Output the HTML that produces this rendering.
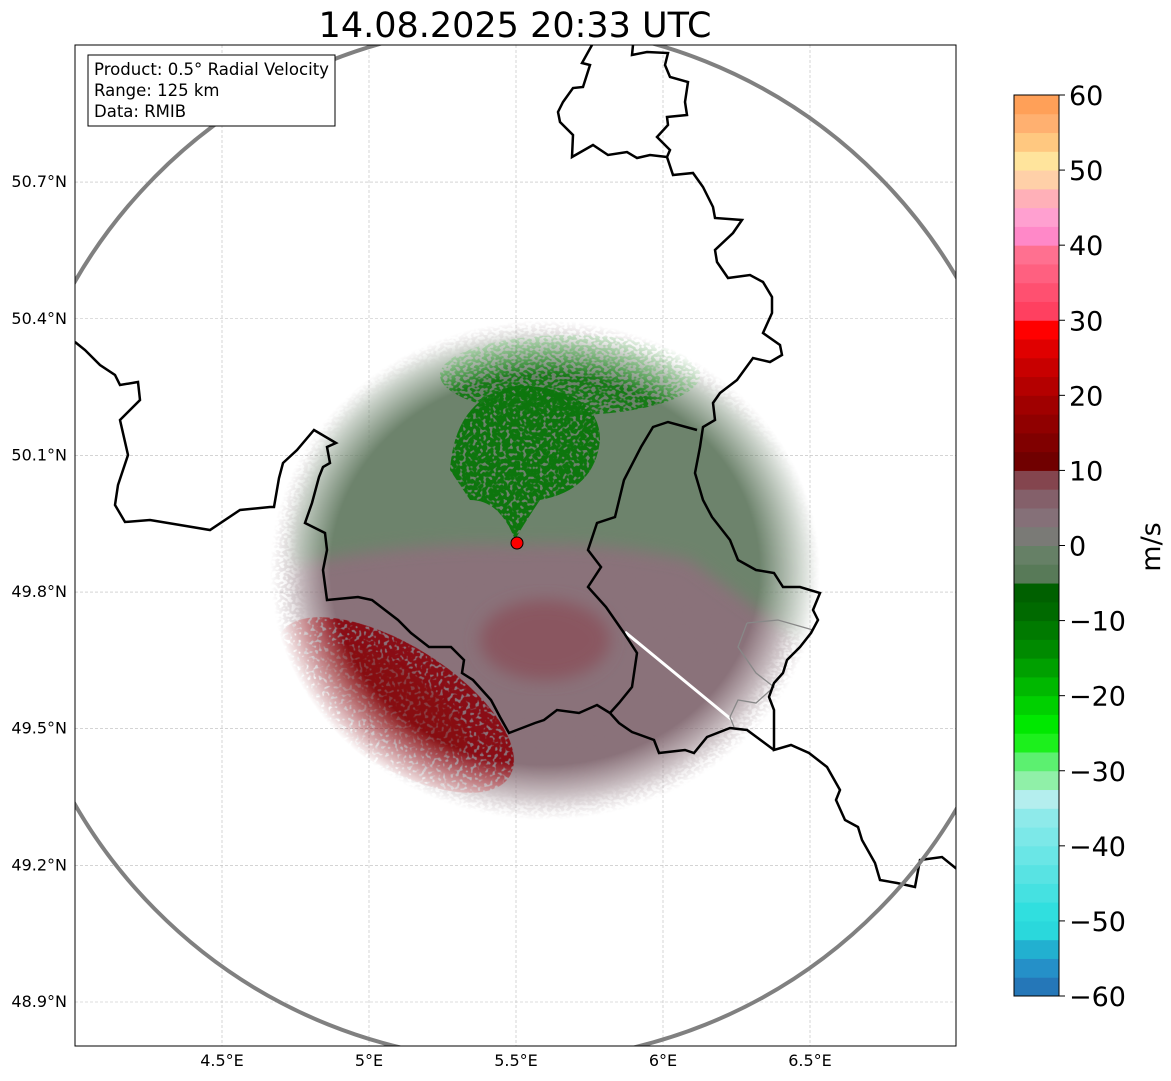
<!DOCTYPE html>
<html><head><meta charset="utf-8"><style>
html,body{margin:0;padding:0;background:#fff;}
svg{display:block;font-family:"DejaVu Sans","Liberation Sans",sans-serif;}
</style></head><body>
<svg id="root" width="1171" height="1081" viewBox="0 0 1171 1081" xmlns="http://www.w3.org/2000/svg">
<defs>
<clipPath id="ax"><rect x="75" y="45" width="881" height="1001"/></clipPath>
<filter id="blur8" x="-20%" y="-20%" width="140%" height="140%"><feGaussianBlur stdDeviation="8"/></filter>
<filter id="blur4" x="-20%" y="-20%" width="140%" height="140%"><feGaussianBlur stdDeviation="4"/></filter>
<filter id="speck" x="-10%" y="-10%" width="120%" height="120%">
<feTurbulence type="fractalNoise" baseFrequency="0.25 0.35" numOctaves="1" seed="3" result="n"/>
<feColorMatrix in="n" type="matrix" values="0 0 0 0 1  0 0 0 0 1  0 0 0 0 1  0 0 0 9 -3.9" result="m"/>
<feComposite in="SourceGraphic" in2="m" operator="in"/>
</filter>
<filter id="speck2" x="-10%" y="-10%" width="120%" height="120%">
<feTurbulence type="fractalNoise" baseFrequency="0.3 0.3" numOctaves="1" seed="7" result="n"/>
<feColorMatrix in="n" type="matrix" values="0 0 0 0 1  0 0 0 0 1  0 0 0 0 1  0 0 0 9 -3.1" result="m"/>
<feComposite in="SourceGraphic" in2="m" operator="in"/>
</filter>
<radialGradient id="fade" cx="0.5" cy="0.5" r="0.5">
<stop offset="0.78" stop-color="#fff" stop-opacity="1"/><stop offset="1" stop-color="#fff" stop-opacity="0"/>
</radialGradient>
<mask id="fadeMask"><ellipse cx="545" cy="570" rx="275" ry="250" fill="url(#fade)"/></mask>
</defs>
<text x="515" y="37" text-anchor="middle" font-size="35" fill="#000">14.08.2025 20:33 UTC</text>
<g id="grid" clip-path="url(#ax)"></g>
<g clip-path="url(#ax)">
 <g mask="url(#fadeMask)">
  <ellipse cx="545" cy="575" rx="255" ry="235" fill="#8a727a" filter="url(#blur8)"/>
  <ellipse cx="545" cy="575" rx="285" ry="260" fill="#8a727a" filter="url(#speck)"/>
  <path d="M290,525 Q320,350 520,335 Q710,340 800,470 Q830,560 815,650 Q745,600 690,560 Q600,540 517,545 Q420,540 290,565 Z" fill="#6d836c" filter="url(#blur8)"/>
  <ellipse cx="570" cy="375" rx="130" ry="40" fill="#137a13" filter="url(#speck)"/>
  <path d="M450,470 Q455,395 520,385 Q600,390 600,440 Q595,490 540,500 Q520,530 515,540 Q500,500 470,500 Z" fill="#0f760f" filter="url(#speck2)"/>
  <ellipse cx="545" cy="640" rx="65" ry="40" fill="#8a5660" filter="url(#blur8)"/>
  <ellipse cx="395" cy="705" rx="135" ry="60" transform="rotate(32 395 705)" fill="#8a0a12" filter="url(#speck2)"/>
  <ellipse cx="395" cy="700" rx="85" ry="32" transform="rotate(35 395 700)" fill="#850a10" opacity="0.5" filter="url(#blur4)"/>
  <line x1="625" y1="632" x2="732" y2="720" stroke="#fff" stroke-width="3"/>
 </g>
</g>
<g clip-path="url(#ax)" fill="none">
 <polyline stroke="#888" stroke-width="1.3" points="747,623 778,620 813,630"/>
 <polyline stroke="#888" stroke-width="1.3" points="747,623 738,647 756,673 774,687 756,703 738,700 730,717 734,727"/>
 <polyline stroke="#000" stroke-width="2.5" points="592,45 582,63 590,65 583,87 573,88 563,102 558,112 560,122 573,135 572,157 593,145 608,155 627,152 637,158 650,155 667,157"/>
 <polyline stroke="#000" stroke-width="2.5" points="633,45 632,55 647,52 668,53 665,65 670,77 688,82 685,102 687,115 667,117 668,125 657,137 663,143 670,150 667,157 673,175 693,173 703,187 713,207 715,218 742,220 733,233 715,250 717,262 728,278 750,275 763,282 772,297 772,313 763,333 780,345 782,355 770,362 753,358 737,380 720,393 713,403 715,420 703,427 700,447 695,473 703,500 712,517 730,540 738,560 756,570 774,573 783,587 800,587 820,593 813,610 818,620 811,633 800,647 787,660 783,673 774,683 769,697 774,710 774,750 791,745 809,753 827,767 840,790 836,800 845,820 858,827 862,840 875,863 880,880 897,883 915,887 920,860 942,857 958,870"/>
 <polyline stroke="#000" stroke-width="2.5" points="774,750 747,730 730,728 707,737 694,753 685,750 659,753 654,740 632,732 619,723 610,713 597,705 579,713 557,710 544,720 535,723 509,733 500,717 491,700 473,680 462,673 464,660 451,647 429,647 411,633 398,620 372,600 358,597 327,600 323,570 327,550 325,533 305,523 312,503 319,477 323,467 330,463 327,447 336,443 314,430 297,450 283,463 279,478 274,507 270,507 240,510 210,530 180,525 150,520 125,522 115,505 118,485 128,455 120,420 140,400 138,382 120,385 115,375 100,365 85,350 75,342"/>
 <polyline stroke="#000" stroke-width="2.5" points="697,430 668,422 653,427 641,447 624,480 615,517 597,523 588,550 601,567 588,587 606,607 624,633 637,653 632,687 619,703 610,713"/>
 <ellipse cx="517" cy="543" rx="512" ry="518" stroke="#808080" stroke-width="4"/>
</g>
<circle cx="517" cy="543" r="6" fill="#f00" stroke="#000" stroke-width="1"/>
<rect x="75" y="45" width="881" height="1001" fill="none" stroke="#000" stroke-width="1"/>
<g>
 <rect x="88" y="55" width="247" height="71" fill="#fff" stroke="#000" stroke-width="1"/>
 <text x="94" y="75" font-size="16.5" textLength="235" lengthAdjust="spacingAndGlyphs">Product: 0.5° Radial Velocity</text>
 <text x="94" y="96" font-size="16.5">Range: 125 km</text>
 <text x="94" y="117" font-size="16.5">Data: RMIB</text>
</g>
<g id="xaxis"></g>
<g id="yaxis"></g>
<g id="cbar"></g>
<text x="1160" y="547" font-size="27" text-anchor="middle" transform="rotate(-90 1160 547)">m/s</text>
</svg>
<script>
const lonTicks=[4.5,5,5.5,6,6.5];
const lonLabels=["4.5°E","5°E","5.5°E","6°E","6.5°E"];
const latTicks=[48.9,49.2,49.5,49.8,50.1,50.4,50.7];
const latLabels=["48.9°N","49.2°N","49.5°N","49.8°N","50.1°N","50.4°N","50.7°N"];
const cbTicks=[-60,-50,-40,-30,-20,-10,0,10,20,30,40,50,60];
const cbLabels=["\u221260","\u221250","\u221240","\u221230","\u221220","\u221210","0","10","20","30","40","50","60"];
const cbColors=["#2577b8","#2590c8","#22b0d0","#2ad8dc","#30dfdf","#45e1e1","#58e3e3","#6ae6e6","#7ce8e8","#8eeaea","#b4eeee",
"#90f0a8","#5cf070","#1cf01c","#00e800","#00d000","#00b800","#00a000","#008a00","#007a00","#006a00","#006000",
"#587a58","#668066","#7a7a76","#857078","#84606a","#84454e",
"#700000","#800000","#900000","#a00000","#b40000","#c80000","#e00000","#ff0000",
"#ff4060","#ff5070","#ff6080","#ff7090","#ff88c8","#ffa0d0","#ffb0b8","#ffd0a8","#ffe49c","#ffc880","#ffb070","#ffa058"];
const NS="http://www.w3.org/2000/svg";
function xs(lon){return 75+(lon-4.0)*294;}
function ys(lat){return 1002-(lat-48.9)*455.5;}
function cy(v){return 996-(v+60)*(901/120);}
function mk(t,a,p){const e=document.createElementNS(NS,t);for(const k in a)e.setAttribute(k,a[k]);p.appendChild(e);return e;}
const grid=document.getElementById('grid'),xa=document.getElementById('xaxis'),ya=document.getElementById('yaxis'),cb=document.getElementById('cbar');
lonTicks.forEach((v,i)=>{const x=xs(v);
 const l=mk('line',{x1:x,y1:45,x2:x,y2:1046,stroke:'#bbb','stroke-width':0.6,'stroke-dasharray':'3,2'},grid);
 
 const t=mk('text',{x:x,y:1066,'font-size':16,'text-anchor':'middle'},xa);t.textContent=lonLabels[i];
 });
latTicks.forEach((v,i)=>{const y=ys(v);
 const l=mk('line',{x1:75,y1:y,x2:956,y2:y,stroke:'#bbb','stroke-width':0.6,'stroke-dasharray':'3,2'},grid);
 
 const t=mk('text',{x:67,y:y+5,'font-size':16,'text-anchor':'end'},ya);t.textContent=latLabels[i];
 });
const step=120/cbColors.length;
cbColors.forEach((c,i)=>{const v0=-60+i*step,v1=v0+step;
 const r=mk('rect',{x:1014,y:cy(v1),width:45,height:cy(v0)-cy(v1)+0.5,fill:c},cb);
 });
const fr=mk('rect',{x:1014,y:95,width:45,height:901,fill:'none',stroke:'#000','stroke-width':1},cb);

cbTicks.forEach((v,i)=>{const y=cy(v);
 const tk=mk('line',{x1:1059,y1:y,x2:1065,y2:y,stroke:'#000'},cb);
 
 const t=mk('text',{x:1069,y:y+10,'font-size':27},cb);t.textContent=cbLabels[i];
 });
</script>
</body></html>
